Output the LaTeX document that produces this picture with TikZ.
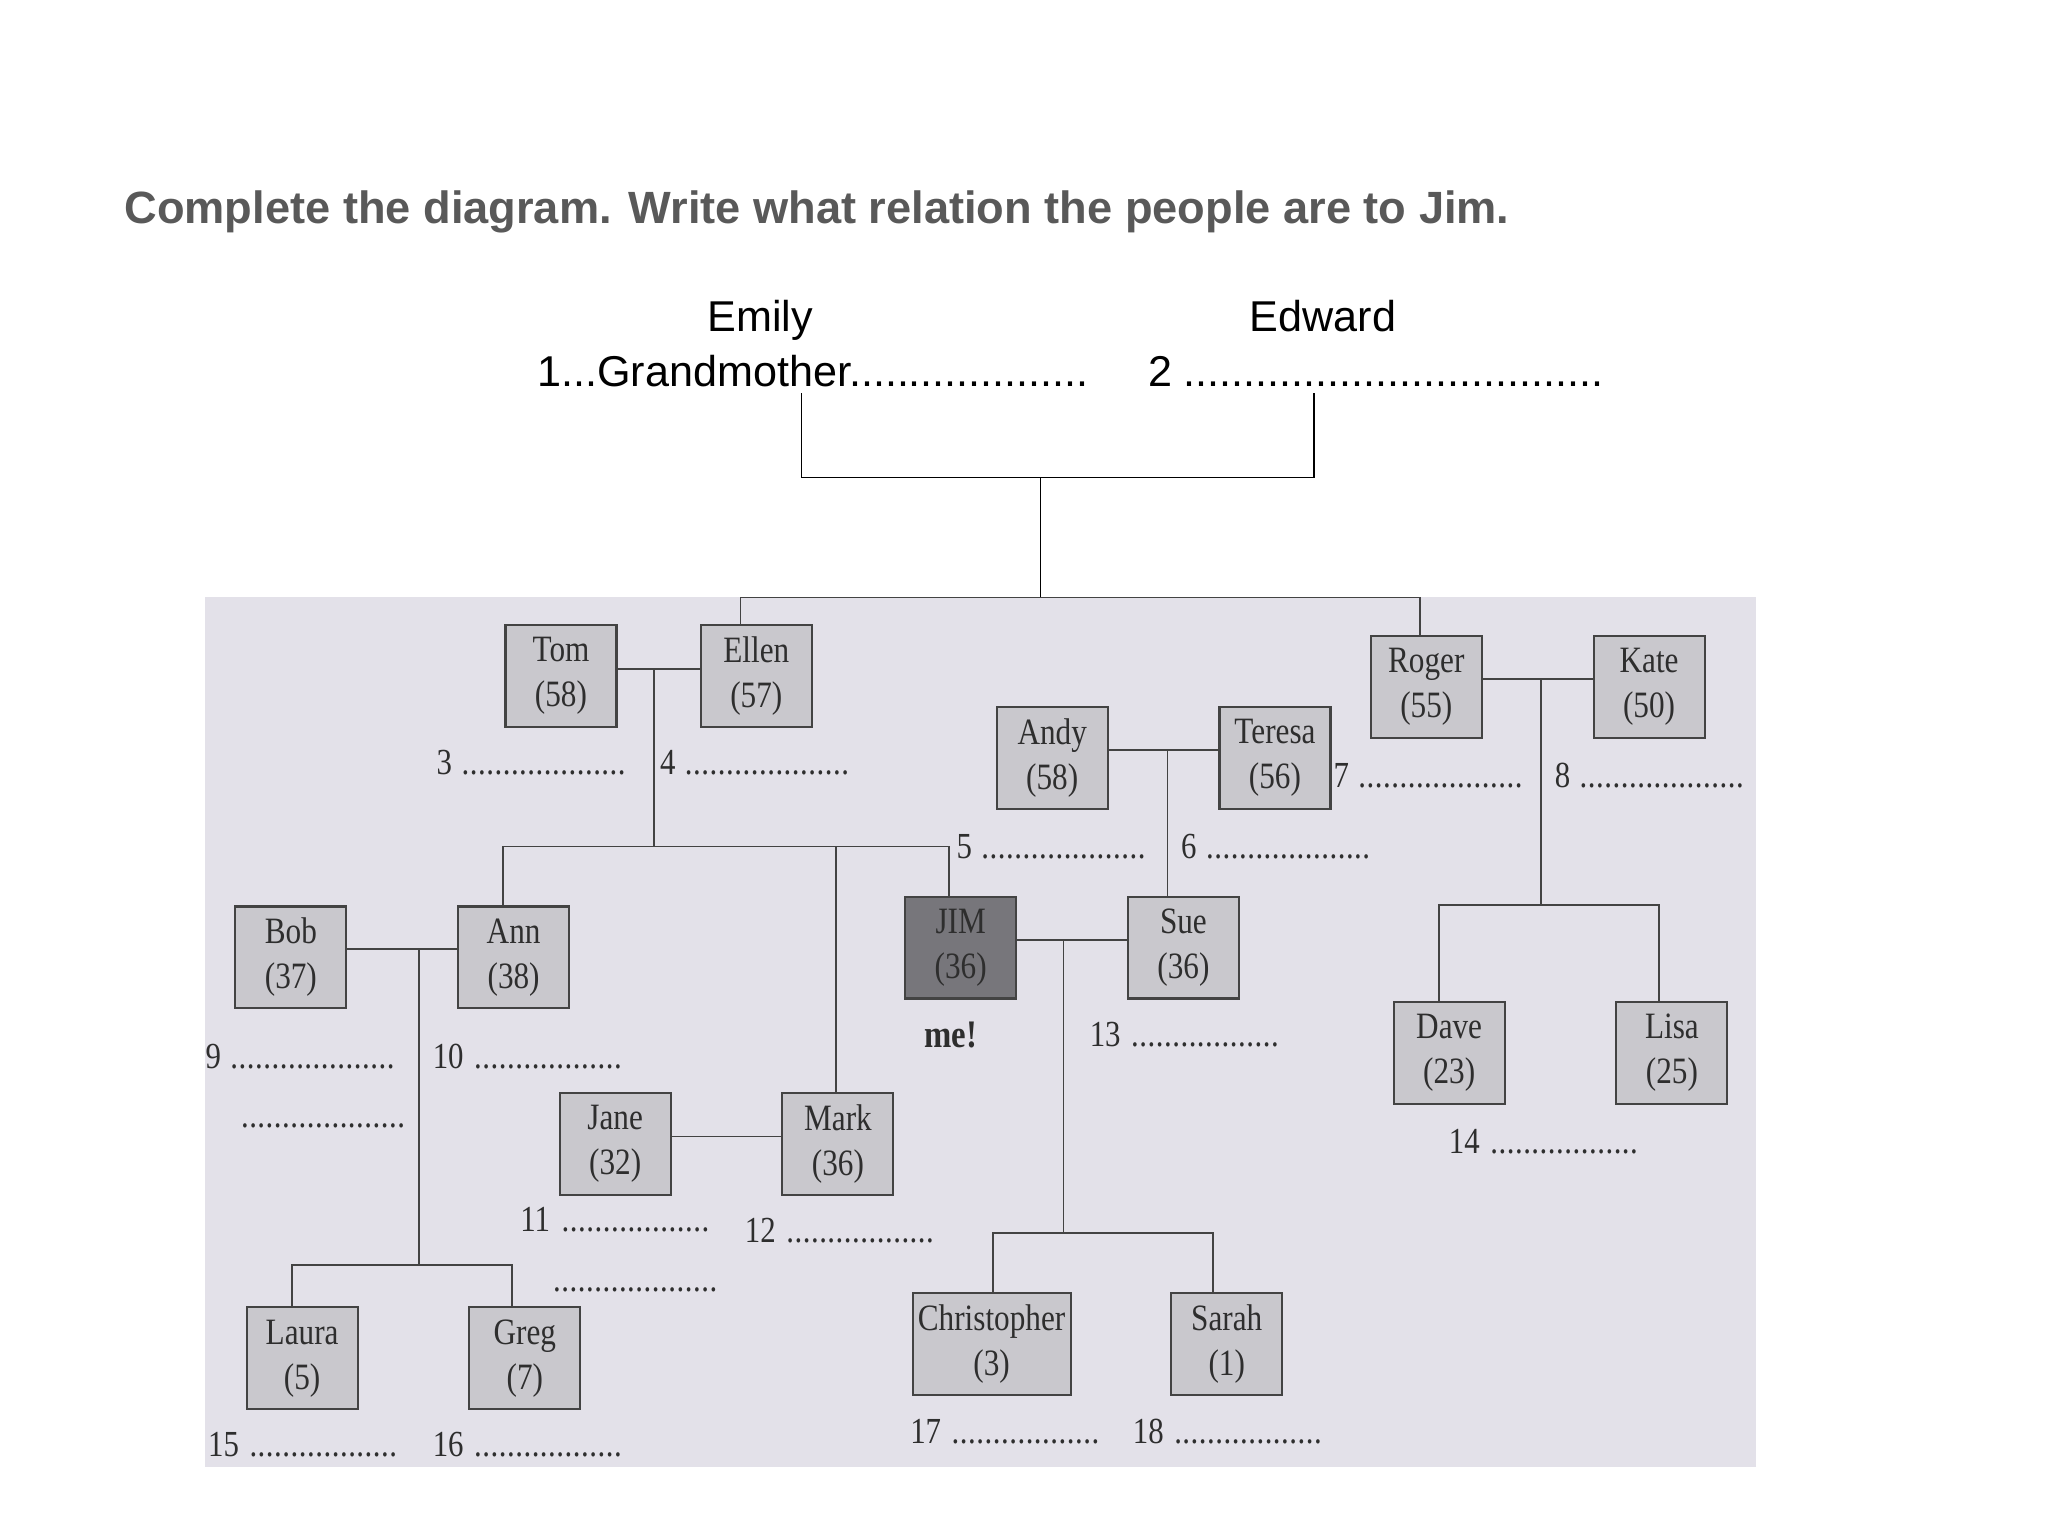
\documentclass[tikz,border=0pt]{standalone}
\usepackage{fontspec}
\setmainfont{Liberation Sans}
\newfontfamily\bookfont[FakeStretch=0.84]{Liberation Serif}
\usetikzlibrary{positioning}

\definecolor{pagebg}{HTML}{E3E1E9}
\definecolor{boxfill}{HTML}{C9C8CD}
\definecolor{jimfill}{HTML}{77767B}
\definecolor{ink}{HTML}{2E2E2E}
\definecolor{titlegray}{HTML}{595959}

\newcommand{\blank}[1]{\hbox to 3.02cm{#1\hskip 0.05cm\leaders\hbox to 0.126cm{\hss.\hss}\hfill}}
\newcommand{\dotsonly}{\hbox to 2.54cm{\leaders\hbox to 0.126cm{\hss.\hss}\hfill}}

\begin{document}
\begin{tikzpicture}[
    x=0.02cm, y=-0.02cm,
    node distance=1.68cm,
    person/.style={rectangle, draw=ink!90, line width=0.9pt, fill=boxfill, text=ink, minimum width=1.7cm, minimum height=1.56cm, inner sep=0.04cm, align=center, font=\bookfont\fontsize{16.2}{19.6}\selectfont},
    answer/.style={anchor=base west, inner sep=0pt, text=ink, font=\bookfont\fontsize{16}{18}\selectfont},
    heading/.style={anchor=base, inner sep=0pt, font=\fontsize{18.8}{22}\selectfont},
    tie/.style={draw=ink!90, line width=0.7pt},
    topline/.style={draw=black, line width=0.6pt}
]
\useasboundingbox (0,0) rectangle (1568,1176);

\node[anchor=base west, inner sep=0pt, text=titlegray, font=\bfseries\fontsize{19.7}{22}\selectfont] (title) at (95,171) {Complete the diagram. Write what relation the people are to Jim.};

% grandparents
\node[heading] (emily) at (582,254) {Emily};
\node[heading] (edward) at (1013,254) {Edward};
\node[heading, anchor=base west] (rel1) at (411,296) {1...Grandmother....................};
\node[heading, anchor=base west] (rel2) at (878.6,296) {2 ...................................};

\coordinate (gm) at (613.6,301);
\coordinate (gf) at (1006,301);
\coordinate (top) at (796.6,365.7);
\draw[topline] (gm) |- (top) -| (gf);

% textbook page
\node[fill=pagebg, inner sep=0pt, outer sep=0pt, minimum width=23.76cm, minimum height=13.32cm, anchor=north west] (page) at (157,457) {};
\draw[topline] (top) -- (top |- page.north);

% people
\node[person] (tom) at (429.5,517.5) {Tom\\(58)};
\node[person, right=1.26cm of tom] (ellen) {Ellen\\(57)};
\node[person] (andy) at (805.6,580.5) {Andy\\(58)};
\node[person, right=of andy] (teresa) {Teresa\\(56)};
\node[person] (roger) at (1092,526) {Roger\\(55)};
\node[person, right=of roger] (kate) {Kate\\(50)};
\node[person] (bob) at (222.7,733) {Bob\\(37)};
\node[person, right=of bob] (ann) {Ann\\(38)};
\node[person, fill=jimfill] (jim) at (735.5,725.5) {JIM\\(36)};
\node[person, right=of jim] (sue) {Sue\\(36)};
\node[person] (dave) at (1109.5,806) {Dave\\(23)};
\node[person, right=of dave] (lisa) {Lisa\\(25)};
\node[person] (jane) at (471,876) {Jane\\(32)};
\node[person, right=of jane] (mark) {Mark\\(36)};
\node[person] (laura) at (231.3,1040) {Laura\\(5)};
\node[person, right=of laura] (greg) {Greg\\(7)};
\node[person, minimum width=2.42cm] (chris) at (759.2,1028.7) {Christopher\\(3)};
\node[person, right=1.51cm of chris] (sarah) {Sarah\\(1)};

\node[anchor=base, inner sep=0pt, text=ink, font=\bookfont\bfseries\fontsize{17}{19.6}\selectfont] (me) at (728,802) {me!};

% family lines
\coordinate (kidsL) at (567,457.5);
\coordinate (kidsR) at (1087,457.5);
\draw[tie] (ellen.north -| kidsL) -- (kidsL) -- (kidsR) -- (roger.north -| kidsR);

\coordinate (tomEllen) at (500.8,512);
\coordinate (annUp) at (385,648);
\coordinate (markUp) at (640,648);
\coordinate (jimUp) at (726.6,648);
\draw[tie] (tom.east |- tomEllen) -- (ellen.west |- tomEllen);
\draw[tie] (tomEllen) -- (tomEllen |- annUp);
\draw[tie] (ann.north -| annUp) -- (annUp) -- (jimUp) -- (jim.north -| jimUp);
\draw[tie] (markUp) -- (mark.north -| markUp);

\coordinate (andyTeresa) at (894,574);
\draw[tie] (andy.east |- andyTeresa) -- (teresa.west |- andyTeresa);
\draw[tie] (andyTeresa) -- (sue.north -| andyTeresa);

\coordinate (rogerKate) at (1180,520);
\coordinate (daveUp) at (1101.7,693);
\coordinate (lisaUp) at (1270,693);
\draw[tie] (roger.east |- rogerKate) -- (kate.west |- rogerKate);
\draw[tie] (rogerKate) -- (rogerKate |- daveUp);
\draw[tie] (dave.north -| daveUp) -- (daveUp) -- (lisaUp) -- (lisa.north -| lisaUp);

\coordinate (bobAnn) at (321,726.7);
\coordinate (lauraUp) at (223.4,968.5);
\coordinate (gregUp) at (392,968.5);
\draw[tie] (bob.east |- bobAnn) -- (ann.west |- bobAnn);
\draw[tie] (bobAnn) -- (bobAnn |- lauraUp);
\draw[tie] (laura.north -| lauraUp) -- (lauraUp) -- (gregUp) -- (greg.north -| gregUp);

\coordinate (janeMark) at (555,870);
\draw[tie] (jane.east |- janeMark) -- (mark.west |- janeMark);

\coordinate (jimSue) at (814.3,719.7);
\coordinate (chrisUp) at (760.2,944);
\coordinate (sarahUp) at (928.7,944);
\draw[tie] (jim.east |- jimSue) -- (sue.west |- jimSue);
\draw[tie] (jimSue) -- (jimSue |- chrisUp);
\draw[tie] (chris.north -| chrisUp) -- (chrisUp) -- (sarahUp) -- (sarah.north -| sarahUp);

% answer lines
\node[answer] (a3) at (334,593) {\blank{3}};
\node[answer] (a4) at (505,593) {\blank{4}};
\node[answer] (a5) at (732,657) {\blank{5}};
\node[answer] (a6) at (904,657) {\blank{6}};
\node[answer] (a7) at (1020.6,603) {\blank{7}};
\node[answer] (a8) at (1190,603) {\blank{8}};
\node[answer] (a9) at (157,818) {\blank{9}};
\node[answer] (a9b) at (184,863.6) {\dotsonly};
\node[answer] (a10) at (331,818) {\blank{10}};
\node[answer] (a11) at (398,943) {\blank{11}};
\node[answer] (a11b) at (423,989) {\dotsonly};
\node[answer] (a12) at (570,951) {\blank{12}};
\node[answer] (a13) at (834,801) {\blank{13}};
\node[answer] (a14) at (1109,883) {\blank{14}};
\node[answer] (a15) at (159,1115) {\blank{15}};
\node[answer] (a16) at (331,1115) {\blank{16}};
\node[answer] (a17) at (696.6,1105) {\blank{17}};
\node[answer] (a18) at (867,1105) {\blank{18}};
\end{tikzpicture}
\end{document}
